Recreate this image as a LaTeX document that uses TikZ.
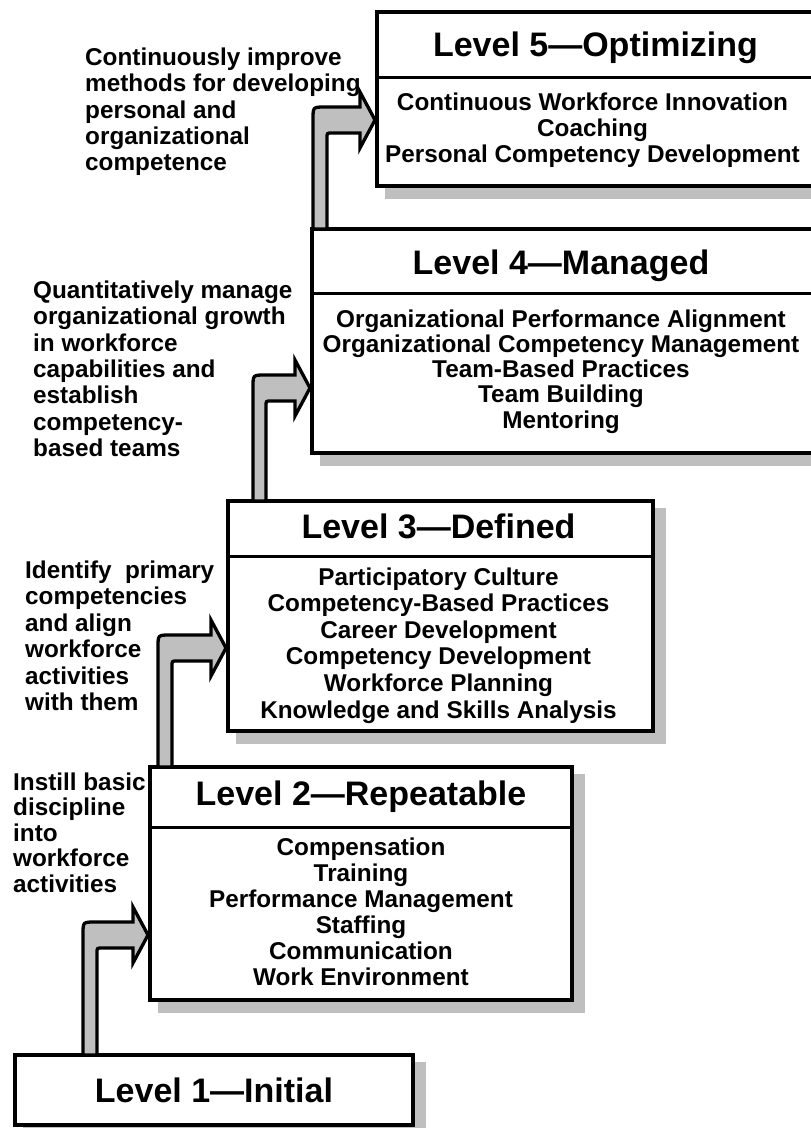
\documentclass[tikz,border=0pt]{standalone}
\usepackage{fontspec}
\setmainfont{Liberation Sans}
\usetikzlibrary{calc,backgrounds}
\tikzset{
  lvbox/.style={draw=black, line width=3.2pt, fill=white, rectangle, inner sep=0pt, outer sep=0pt, anchor=north west},
  shadowfill/.style={fill=black!25},
  divline/.style={line width=3pt},
  titletext/.style={anchor=base, inner sep=0pt, font=\bfseries\fontsize{34}{40}\selectfont},
  itemtext/.style={anchor=base, inner sep=0pt},
  sidetext/.style={anchor=base west, inner sep=0pt},
  steparrow/.style={draw=black, line width=3.3pt, fill=black!25, line join=miter},
}
\newcommand{\levelarrow}[5]{% #1 source, #2 target, #3 shaft left x, #4 shaft right x, #5 band mid y
  \filldraw[steparrow] let \p1=(#1.north), \p2=(#2.west) in
    (#3,\y1) -- (#3,#5-1) .. controls (#3,#5-13) .. (#3+12,#5-13)
    -- (\x2-17pt,#5-13) -- (\x2-17pt,#5-28) -- (\x2-2pt,#5) -- (\x2-17pt,#5+28) -- (\x2-17pt,#5+13)
    -- (#4+5,#5+13) .. controls (#4,#5+13) .. (#4,#5+18) -- (#4,\y1) -- cycle;}
\newcommand{\itemfont}{\bfseries\fontsize{24.3}{26}\selectfont}
\begin{document}
\begin{tikzpicture}[x=1pt,y=-1pt]
\useasboundingbox (0,0) rectangle (811,1128);

% boxes
\node[lvbox, minimum width=437pt, minimum height=174pt] (L5) at (377,12) {};
\node[lvbox, minimum width=502pt, minimum height=224pt] (L4) at (312,229) {};
\node[lvbox, minimum width=425pt, minimum height=230pt] (L3) at (228,501) {};
\node[lvbox, minimum width=422pt, minimum height=233pt] (L2) at (150,767) {};
\node[lvbox, minimum width=398pt, minimum height=70pt] (L1) at (15,1055) {};

\begin{pgfonlayer}{background}
  \fill[white] (0,0) rectangle (811,1128);
  \foreach \n in {L1,L2,L3,L4,L5}
    \fill[shadowfill] ($(\n.north west)+(8,7)$) rectangle ($(\n.south east)+(13,13)$);
\end{pgfonlayer}

% dividers
\draw[divline] ($(L5.north west)+(0,65)$) -- ($(L5.north east)+(0,65)$);
\draw[divline] ($(L4.north west)+(0,64)$) -- ($(L4.north east)+(0,64)$);
\draw[divline] ($(L3.north west)+(0,55)$) -- ($(L3.north east)+(0,55)$);
\draw[divline] ($(L2.north west)+(0,60)$) -- ($(L2.north east)+(0,60)$);

% titles
\node[titletext] (L5t) at ($(L5.north)+(0,44)$) {Level 5—Optimizing};
\node[titletext] (L4t) at ($(L4.north)+(-2,45)$) {Level 4—Managed};
\node[titletext] (L3t) at ($(L3.north)+(-2,37)$) {Level 3—Defined};
\node[titletext] (L2t) at ($(L2.north)+(0,38)$) {Level 2—Repeatable};
\node[titletext] (L1t) at ($(L1.north)+(0,47)$) {Level 1—Initial};

% items
\node[itemtext] (L5i) at ($(L5.north)+(-3,98)$) {\parbox[t]{430pt}{\centering\itemfont
  Continuous Workforce Innovation\\Coaching\\Personal Competency Development}};
\node[itemtext] (L4i) at ($(L4.north)+(-2,98)$) {\parbox[t]{495pt}{\centering\bfseries\fontsize{24.3}{25.3}\selectfont
  Organizational Performance Alignment\\Organizational Competency Management\\Team-Based Practices\\Team Building\\Mentoring}};
\node[itemtext] (L3i) at ($(L3.north)+(-2,84)$) {\parbox[t]{420pt}{\centering\bfseries\fontsize{24.3}{26.6}\selectfont
  Participatory Culture\\Competency-Based Practices\\Career Development\\Competency Development\\Workforce Planning\\Knowledge and Skills Analysis}};
\node[itemtext] (L2i) at ($(L2.north)+(0,88)$) {\parbox[t]{415pt}{\centering\itemfont
  Compensation\\Training\\Performance Management\\Staffing\\Communication\\Work Environment}};

% side texts
\node[sidetext] (T5) at (85,65.5) {\parbox[t]{300pt}{\raggedright\bfseries\fontsize{24.3}{26.3}\selectfont
  Continuously improve\\methods for developing\\personal and\\organizational\\competence}};
\node[sidetext] (T4) at (33,298.5) {\parbox[t]{300pt}{\raggedright\bfseries\fontsize{24.3}{26.3}\selectfont
  Quantitatively manage\\organizational growth\\in workforce\\capabilities and\\establish\\competency-\\based teams}};
\node[sidetext] (T3) at (25,578.5) {\parbox[t]{300pt}{\raggedright\bfseries\fontsize{24.3}{26.4}\selectfont
  Identify~ primary\\competencies\\and align\\workforce\\activities\\with them}};
\node[sidetext] (T2) at (13,790) {\parbox[t]{300pt}{\raggedright\bfseries\fontsize{24.3}{25.5}\selectfont
  Instill basic\\discipline\\into\\workforce\\activities}};

% arrows
\levelarrow{L1}{L2}{83}{97}{935}
\levelarrow{L2}{L3}{158}{172}{648}
\levelarrow{L3}{L4}{253}{266}{388}
\levelarrow{L4}{L5}{313}{327}{120}
\end{tikzpicture}
\end{document}
